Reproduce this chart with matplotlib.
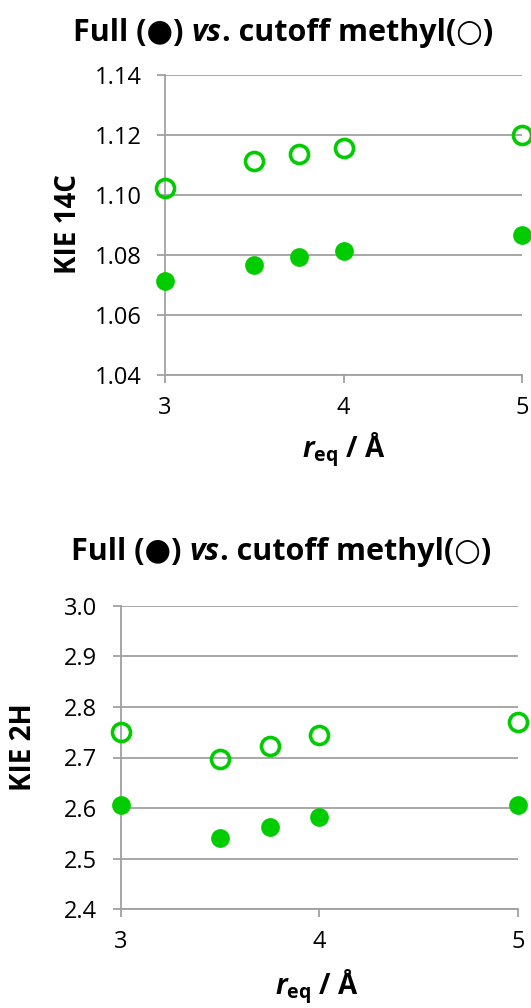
import matplotlib
matplotlib.use("Agg")
from matplotlib import pyplot as plt
from matplotlib.offsetbox import TextArea, HPacker, AnnotationBbox

FONTS = ['Open Sans', 'DejaVu Sans']
plt.rcParams['font.family'] = FONTS
plt.rcParams['mathtext.fontset'] = 'custom'
plt.rcParams['mathtext.rm'] = 'Open Sans:bold'
plt.rcParams['mathtext.bf'] = 'Open Sans:bold'
plt.rcParams['mathtext.it'] = 'Open Sans:italic:bold'

# Equilibrium distances (Å)
r_eq = [3.0, 3.5, 3.75, 4.0, 5.0]

# 14C kinetic isotope effects
kie14c_full = [1.0714, 1.0767, 1.0793, 1.0813, 1.0866]
kie14c_cutoff = [1.1024, 1.1113, 1.1137, 1.1157, 1.1200]

# 2H kinetic isotope effects
kie2h_full = [2.606, 2.540, 2.563, 2.583, 2.607]
kie2h_cutoff = [2.750, 2.697, 2.723, 2.745, 2.770]

x_ticks = [3, 4, 5]
y_ticks_14c = [1.04, 1.06, 1.08, 1.10, 1.12, 1.14]
y_ticks_2h = [2.4, 2.5, 2.6, 2.7, 2.8, 2.9, 3.0]

GREEN = '#00CC00'
GREY = '#A0A0A0'
# title pieces: (text, style)
TITLE_PARTS = [('Full (●) ', 'normal'), ('vs', 'italic'), ('. cutoff methyl(○)', 'normal')]
XLABEL = r'$\mathit{r}_{\mathbf{eq}}$ / Å'

W, H = 531, 1008
fig = plt.figure(figsize=(W / 100, H / 100), dpi=100)


def px(x, y):
    # pixel position (from top-left) to figure fraction
    return x / W, 1 - y / H


def add_title(x, y, size=22):
    boxes = [TextArea(s, textprops=dict(fontsize=size, fontweight='bold',
                                         fontstyle=style, family=FONTS))
             for s, style in TITLE_PARTS]
    pack = HPacker(children=boxes, pad=0, sep=0, align='baseline')
    ab = AnnotationBbox(pack, px(x, y), xycoords='figure fraction',
                        frameon=False, box_alignment=(0.5, 0.5), pad=0)
    fig.add_artist(ab)


def make_panel(rect, full, cutoff, yticks, yfmt):
    ax = fig.add_axes(rect)
    ax.set_xlim(3, 5)
    ax.set_ylim(yticks[0], yticks[-1])
    ax.set_xticks(x_ticks)
    ax.set_yticks(yticks)
    ax.set_yticklabels([yfmt % v for v in yticks])
    ax.yaxis.grid(True, color=GREY, linewidth=1.3)
    ax.set_axisbelow(True)
    for side in ['top', 'right']:
        ax.spines[side].set_visible(False)
    for side in ['left', 'bottom']:
        ax.spines[side].set_color(GREY)
        ax.spines[side].set_linewidth(1.3)
    ax.tick_params(axis='both', colors=GREY, width=1.3, length=6,
                   labelcolor='black', labelsize=17)
    ax.tick_params(axis='y', pad=11)
    ax.tick_params(axis='x', pad=9)

    ax.plot(r_eq, full, 'o', color=GREEN, markersize=13.5,
            markeredgewidth=0, clip_on=False, zorder=3)
    ax.plot(r_eq, cutoff, 'o', markerfacecolor='none', markeredgecolor=GREEN,
            markersize=13, markeredgewidth=2.6, clip_on=False, zorder=3)
    return ax


# KIE 14C panel
l, b = px(165, 375)
r, t = px(522, 75)
make_panel([l, b, r - l, t - b], kie14c_full, kie14c_cutoff, y_ticks_14c, '%.2f')
add_title(283, 33)
fig.text(*px(69, 224), 'KIE 14C', ha='center', va='center', rotation=90,
         fontsize=20, fontweight='bold')
fig.text(*px(344, 450), XLABEL, ha='center', va='center', fontsize=20, fontweight='bold')

# KIE 2H panel
l, b = px(120.7, 909.3)
r, t = px(518, 605.7)
make_panel([l, b, r - l, t - b], kie2h_full, kie2h_cutoff, y_ticks_2h, '%.1f')
add_title(281, 552)
fig.text(*px(24, 747), 'KIE 2H', ha='center', va='center', rotation=90,
         fontsize=20, fontweight='bold')
fig.text(*px(317, 987), XLABEL, ha='center', va='center', fontsize=20, fontweight='bold')

fig.savefig('out.png', dpi=100)
